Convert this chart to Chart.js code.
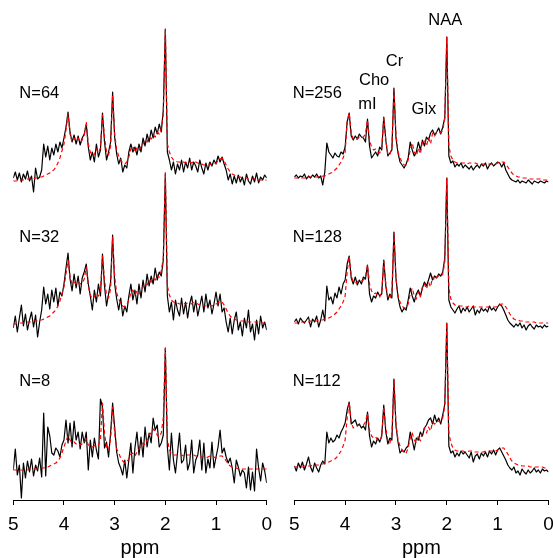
<!DOCTYPE html>
<html>
<head>
<meta charset="utf-8">
<script src="https://cdn.jsdelivr.net/npm/chart.js@4.4.1/dist/chart.umd.min.js"></script>
<style>
  html, body { margin: 0; padding: 0; background: #fff; overflow: hidden; }
  #wrap { position: relative; width: 553px; height: 558px; }
  canvas { position: absolute; top: 0; }
  #left { left: 0; }
  #right { left: 281px; }
</style>
</head>
<body>
<div id="wrap">
  <canvas id="left" width="290" height="558"></canvas>
  <canvas id="right" width="290" height="558"></canvas>
</div>
<script>
// Espectros MRS: sinal medido (preto) + ajuste (vermelho tracejado), por N de médias

// eixo químico (ppm), compartilhado por todos os painéis
const PPM = [
  5,4.96,4.92,4.88,4.84,4.8,4.76,4.72,4.68,4.64,
  4.6,4.56,4.52,4.48,4.44,4.4,4.36,4.32,4.28,4.24,
  4.2,4.16,4.12,4.08,4.04,4,3.96,3.92,3.88,3.84,
  3.8,3.76,3.72,3.68,3.64,3.6,3.56,3.52,3.48,3.44,
  3.4,3.36,3.32,3.28,3.24,3.2,3.16,3.12,3.08,3.04,
  3,2.96,2.92,2.88,2.84,2.8,2.76,2.72,2.68,2.64,
  2.6,2.56,2.52,2.48,2.44,2.4,2.36,2.32,2.28,2.24,
  2.2,2.16,2.12,2.08,2.04,2,1.96,1.92,1.88,1.84,
  1.8,1.76,1.72,1.68,1.64,1.6,1.56,1.52,1.48,1.44,
  1.4,1.36,1.32,1.28,1.24,1.2,1.16,1.12,1.08,1.04,
  1,0.96,0.92,0.88,0.84,0.8,0.76,0.72,0.68,0.64,
  0.6,0.56,0.52,0.48,0.44,0.4,0.36,0.32,0.28,0.24,
  0.2,0.16,0.12,0.08,0.04,0
];
const X_TICKS = [5, 4, 3, 2, 1, 0];
const X_TITLE = 'ppm';

// --- coluna esquerda ---
const SPEC_64 = [
  4,10,2,9,0,8,3,11,1,6,
  -10,14,3,5,12,38,25,36,22,34,
  27,38,30,40,34,44,55,70,50,40,
  47,38,46,37,44,48,58,35,22,30,
  20,38,25,32,69,40,22,30,40,90,
  45,28,18,24,10,17,14,30,38,30,
  35,27,38,30,44,36,48,40,52,44,
  55,48,58,50,72,153,30,22,12,20,
  8,18,12,22,10,20,14,24,12,20,
  16,10,22,14,8,19,12,20,16,22,
  18,26,20,25,18,12,2,8,-2,6,
  -1,7,0,5,-3,8,1,-2,6,0,
  9,-1,5,2,7,4
];
const FIT_64 = [
  1,1,1,2,2,2,2,3,3,3,
  3,4,4,5,5,6,7,8,9,11,
  12,15,19,24,31,38,52,68,48,40,
  44,41,44,40,42,46,60,38,30,26,
  28,33,29,34,67,45,30,27,36,87,
  48,32,26,22,19,18,20,25,33,36,
  30,34,31,36,38,42,40,45,43,47,
  45,50,48,54,68,153,38,30,25,22,
  21,20,20,19,20,19,20,20,19,21,
  20,19,18,18,17,17,18,18,17,18,
  19,21,23,24,21,17,13,10,8,7,
  6,5,5,4,4,4,3,3,3,3,
  3,2,2,2,2,2
];
const SPEC_32 = [
  -4,8,-8,6,19,-2,10,-6,4,12,
  -3,9,-13,2,14,37,20,30,15,34,
  22,36,18,32,28,40,56,71,45,33,
  50,36,48,30,46,52,60,40,28,14,
  34,22,40,28,70,38,18,30,42,89,
  40,25,14,26,8,18,12,28,40,24,
  34,20,40,26,44,32,50,38,48,40,
  56,44,52,48,64,150,28,12,22,4,
  24,14,8,26,10,22,6,20,28,12,
  24,8,18,28,12,30,16,24,10,20,
  32,18,30,12,16,2,-8,6,-10,4,
  12,-6,2,-12,6,-4,14,-8,0,-16,
  4,-10,8,-4,2,-6
];
const FIT_32 = [
  0,0,1,1,1,1,2,2,2,2,
  3,3,3,4,4,5,6,7,8,10,
  12,14,18,23,30,37,50,64,47,40,
  42,40,43,40,41,45,57,38,29,25,
  27,31,28,33,68,44,29,26,35,87,
  47,31,25,21,18,17,19,24,31,34,
  29,33,30,35,37,40,39,44,42,46,
  44,49,47,53,66,152,38,29,24,22,
  21,21,20,20,21,20,21,21,20,22,
  21,20,19,19,18,18,19,19,18,19,
  20,21,22,22,19,15,11,8,6,5,
  4,4,3,3,3,3,2,2,2,2,
  2,2,1,1,1,1
];
const SPEC_8 = [
  3,24,-2,8,-25,10,-5,12,1,14,
  -3,8,2,15,-4,60,-3,46,37,20,
  18,25,22,16,28,33,53,30,50,26,
  52,33,41,24,41,30,41,3,33,16,
  35,23,14,74,66,25,31,16,40,70,
  46,21,10,5,-2,13,-5,13,30,0,
  25,41,18,36,16,46,26,40,30,55,
  43,48,26,30,38,125,26,3,40,13,
  0,20,40,10,13,28,3,10,33,0,
  13,18,33,3,30,0,14,5,31,5,
  16,26,43,20,25,16,10,15,5,-10,
  13,6,-3,3,0,-15,6,-17,1,-18,
  24,5,-8,10,2,-10
];
const FIT_8 = [
  3,3,3,3,3,3,3,3,4,4,
  4,4,4,5,5,5,6,6,7,8,
  9,10,12,15,20,26,32,37,33,30,
  31,29,30,28,29,30,34,28,27,26,
  27,29,28,33,70,40,26,23,34,66,
  40,24,20,15,12,10,11,14,19,20,
  17,21,24,27,30,28,33,38,40,44,
  42,38,36,40,55,125,34,23,19,18,
  18,18,18,18,17,18,18,18,17,18,
  17,17,16,16,16,15,16,17,17,16,
  15,16,17,17,15,12,9,7,6,5,
  5,4,4,4,4,4,4,4,4,4,
  4,4,4,4,4,4
];

// --- coluna direita ---
const SPEC_256 = [
  3,5,2,4,3,6,1,4,2,5,
  3,6,2,4,-5,8,37,28,25,22,
  27,24,23,28,26,33,58,67,44,40,
  44,41,46,43,42,38,61,34,22,25,
  28,24,33,30,63,40,24,27,30,92,
  42,27,18,15,12,16,22,38,30,24,
  28,38,30,40,34,43,40,47,50,45,
  48,52,46,53,62,143,24,17,19,13,
  16,14,17,12,15,13,11,14,10,13,
  15,12,16,14,17,11,15,17,14,16,
  18,17,13,17,10,6,2,0,-1,-2,
  0,-3,-1,-2,-3,0,-2,-4,-1,-2,
  -3,-1,-2,-3,-1,-2
];
const FIT_256 = [
  2,2,2,2,2,2,2,3,3,3,
  3,3,3,3,4,4,5,6,7,8,
  10,12,15,18,22,28,58,67,47,41,
  40,41,43,42,43,46,60,40,33,30,
  31,28,27,32,62,40,26,25,33,90,
  45,28,22,18,15,15,20,30,37,28,
  24,32,26,38,40,34,42,36,47,44,
  47,48,47,50,62,143,34,24,20,18,
  17,17,17,17,17,16,17,17,17,17,
  16,16,16,16,16,16,16,16,16,16,
  17,18,18,18,16,13,10,7,5,4,
  3,3,2,2,2,1,1,1,1,1,
  1,1,0,0,0,0
];
const SPEC_128 = [
  2,5,0,6,3,1,4,7,-3,5,
  2,8,-3,4,14,3,38,24,27,20,
  31,26,37,30,40,44,60,68,46,40,
  47,39,44,40,47,45,59,30,22,28,
  26,32,28,30,64,38,24,30,26,92,
  46,27,17,12,16,14,24,36,28,22,
  30,34,28,36,42,38,44,51,44,48,
  46,50,48,52,66,146,24,17,14,11,
  15,18,11,16,13,17,12,15,18,9,
  14,11,16,13,15,12,18,14,16,13,
  17,20,18,14,9,4,1,-1,-3,0,
  -2,1,-4,-1,-6,-2,0,-3,-5,-1,
  -3,-2,-4,-1,-3,-2
];
const FIT_128 = [
  1,1,1,2,2,2,2,2,3,3,
  3,3,4,4,4,5,5,6,7,8,
  10,12,15,18,22,28,52,68,48,42,
  41,42,44,43,44,47,59,40,33,30,
  31,28,27,32,63,40,27,25,33,91,
  45,28,22,18,16,16,20,30,36,28,
  25,32,27,37,40,35,42,37,47,44,
  47,48,47,50,62,146,36,25,21,19,
  18,18,18,18,17,17,18,18,17,17,
  17,17,17,17,17,17,17,17,17,17,
  18,19,20,20,17,14,10,7,5,4,
  4,3,3,2,2,2,2,2,2,1,
  1,1,1,1,1,1
];
const SPEC_112 = [
  2,-3,5,0,6,-2,4,11,1,-4,
  5,0,-4,3,7,4,36,25,30,26,
  28,33,30,36,40,45,58,66,44,46,
  48,42,44,40,42,38,56,32,21,27,
  24,30,26,32,63,36,24,30,28,89,
  42,26,15,18,16,20,22,36,28,18,
  30,28,36,32,40,43,48,50,44,53,
  46,50,44,53,64,145,22,15,17,11,
  15,12,17,14,16,13,10,16,6,12,
  14,9,15,12,16,11,17,14,18,13,
  18,20,16,12,8,3,0,-2,1,-5,
  -3,-7,-1,-4,-6,-2,-5,-3,0,-4,
  -2,-5,-1,-3,-2,-4
];
const FIT_112 = [
  1,1,1,1,1,2,2,2,2,3,
  3,3,3,4,4,5,5,6,7,8,
  9,11,14,17,22,28,50,66,46,40,
  41,42,43,42,43,46,55,38,32,30,
  31,28,27,32,61,40,27,25,33,88,
  44,28,22,18,15,15,20,30,35,28,
  25,32,27,36,40,35,41,37,46,44,
  46,47,46,50,62,145,35,25,20,18,
  17,17,17,17,16,16,17,17,16,16,
  16,16,16,16,17,17,17,17,17,17,
  18,19,20,20,17,14,10,7,5,4,
  3,3,2,2,2,2,1,1,1,1,
  1,1,1,0,0,0
];

const LEFT_N = ['N=64', 'N=32', 'N=8'];
const RIGHT_N = ['N=256', 'N=128', 'N=112'];
const METABOLITES = ['NAA', 'Cr', 'Cho', 'mI', 'Glx'];

// layout: deslocamento vertical de cada painel (unidades do eixo y, 0..500)
const LEFT_BASE = [318, 176, 27];
const RIGHT_BASE = [320, 176, 32];
const N_LABEL_Y = [407, 262.5, 119];
const METAB_POS = [[2.03, 479.5], [3.03, 438.3], [3.43, 419.5], [3.56, 395.3], [2.45, 391]];

const FONT = '"Liberation Sans", Arial, sans-serif';

const textPlugin = {
  id: 'panelText',
  afterDatasetsDraw(chart, args, opts) {
    const { ctx, scales: { x, y } } = chart;
    ctx.save();
    ctx.fillStyle = '#000';
    ctx.font = '16.5px ' + FONT;
    ctx.textBaseline = 'middle';
    (opts.items || []).forEach(t => {
      ctx.textAlign = t.align;
      ctx.fillText(t.text, x.getPixelForValue(t.ppm), y.getPixelForValue(t.y));
    });
    ctx.restore();
  }
};

function panelDatasets(specs, fits, bases) {
  const out = [];
  specs.forEach((spec, k) => {
    const base = bases[k];
    out.push({
      data: PPM.map((x, i) => ({ x, y: base + fits[k][i] })),
      borderColor: '#ff0000', borderWidth: 1.2, borderDash: [4, 3], order: 0
    });
    out.push({
      data: PPM.map((x, i) => ({ x, y: base + spec[i] })),
      borderColor: '#000', borderWidth: 1.2, order: 1
    });
  });
  return out;
}

function makeChart(id, datasets, texts, padRight) {
  return new Chart(document.getElementById(id), {
    type: 'line',
    data: { datasets },
    options: {
      responsive: false,
      animation: false,
      events: [],
      layout: { padding: { left: 11.7, right: padRight, top: 0, bottom: 0 } },
      elements: {
        point: { radius: 0 },
        line: { tension: 0, borderJoinStyle: 'round' }
      },
      plugins: {
        legend: { display: false },
        tooltip: { enabled: false },
        panelText: { items: texts }
      },
      scales: {
        x: {
          type: 'linear', min: 0, max: 5, reverse: true,
          afterFit: s => { s.height = 58; },
          afterBuildTicks: s => { s.ticks = X_TICKS.map(v => ({ value: v })); },
          border: { display: true, color: '#000', width: 1 },
          grid: { display: true, drawOnChartArea: false, drawTicks: true, tickLength: 5, color: '#000' },
          ticks: { color: '#000', padding: 8, maxRotation: 0, font: { family: FONT, size: 19 } },
          title: {
            display: true, text: X_TITLE, color: '#000',
            padding: { top: 0, bottom: 0 },
            font: { family: FONT, size: 20, lineHeight: 1 }
          }
        },
        y: { display: false, min: 0, max: 500 }
      }
    },
    plugins: [textPlugin]
  });
}

const leftTexts = LEFT_N.map((t, k) => ({ text: t, ppm: 4.88, y: N_LABEL_Y[k], align: 'left' }));
const rightTexts = RIGHT_N.map((t, k) => ({ text: t, ppm: 5.03, y: N_LABEL_Y[k], align: 'left' }))
  .concat(METABOLITES.map((t, k) => ({ text: t, ppm: METAB_POS[k][0], y: METAB_POS[k][1], align: 'center' })));

makeChart('left', panelDatasets([SPEC_64, SPEC_32, SPEC_8], [FIT_64, FIT_32, FIT_8], LEFT_BASE), leftTexts, 23.3);
makeChart('right', panelDatasets([SPEC_256, SPEC_128, SPEC_112], [FIT_256, FIT_128, FIT_112], RIGHT_BASE), rightTexts, 22.5);
</script>
</body>
</html>
